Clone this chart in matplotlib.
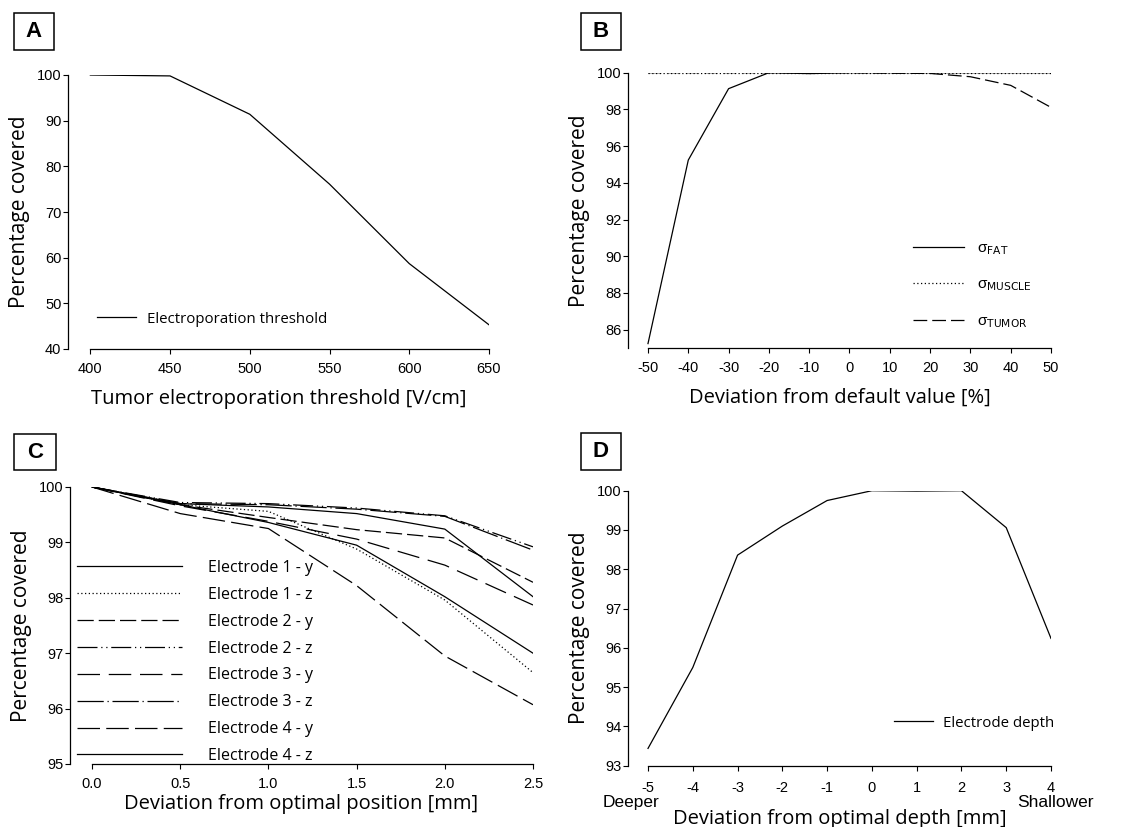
import matplotlib
matplotlib.use('Agg')
import matplotlib.pyplot as plt
from matplotlib.patches import Rectangle

plt.rcParams['axes.unicode_minus'] = False
plt.rcParams['font.family'] = 'Liberation Sans'

W, H = 1142, 827

# A: tumor electroporation threshold
threshold = [400, 450, 500, 550, 600, 650]
cov_threshold = [100, 99.8, 91.4, 76.1, 58.7, 45.3]

# B: conductivity deviation
dev_pct = [-50, -40, -30, -20, -10, 0, 10, 20, 30, 40, 50]
sigma_fat = [85.24, 95.24, 99.13, 100, 99.95, 100, 100, 100, 100, 100, 100]
sigma_muscle = [100, 100, 100, 100, 100, 100, 100, 100, 100, 100, 100]
sigma_tumor = [100, 100, 100, 100, 100, 100, 99.97, 99.96, 99.78, 99.31, 98.11]

# C: electrode position deviation
pos_mm = [0.0, 0.5, 1.0, 1.5, 2.0, 2.5]
e1_y = [100, 99.68, 99.36, 98.95, 98.02, 97.0]
e1_z = [100, 99.68, 99.56, 98.88, 97.96, 96.65]
e2_y = [100, 99.68, 99.45, 99.23, 99.08, 98.28]
e2_z = [100, 99.72, 99.70, 99.62, 99.48, 98.92]
e3_y = [100, 99.66, 99.38, 99.06, 98.59, 97.87]
e3_z = [100, 99.70, 99.68, 99.60, 99.47, 98.86]
e4_y = [100, 99.52, 99.25, 98.22, 96.95, 96.07]
e4_z = [100, 99.70, 99.64, 99.52, 99.24, 98.02]
electrode_labels = ['Electrode 1 - y', 'Electrode 1 - z', 'Electrode 2 - y', 'Electrode 2 - z',
                    'Electrode 3 - y', 'Electrode 3 - z', 'Electrode 4 - y', 'Electrode 4 - z']

# D: electrode depth
depth_mm = [-5, -4, -3, -2, -1, 0, 1, 2, 3, 4]
cov_depth = [93.44, 95.5, 98.36, 99.1, 99.75, 100, 99.99, 100, 99.06, 96.24]

fig = plt.figure(figsize=(W / 100, H / 100), dpi=100)


def px_axes(left, top, right, bottom):
    return fig.add_axes([left / W, 1 - bottom / H, (right - left) / W, (bottom - top) / H])


def style(ax, xlo, xhi):
    for s in ['top', 'right']:
        ax.spines[s].set_visible(False)
    ax.spines['bottom'].set_bounds(xlo, xhi)
    for s in ['left', 'bottom']:
        ax.spines[s].set_linewidth(0.9)
    ax.tick_params(axis='both', direction='out', length=3.8, width=0.8, labelsize=10.5)
    ax.tick_params(axis='y', pad=1)
    ax.tick_params(axis='x', pad=5.5)


def panel_label(letter, x0, y0, x1, y1):
    fig.patches.append(Rectangle((x0 / W, 1 - y1 / H), (x1 - x0) / W, (y1 - y0) / H,
                                 transform=fig.transFigure, fill=False, ec='black', lw=1.1))
    fig.text((x0 + x1) / 2 / W, 1 - (y0 + y1) / 2 / H, letter, ha='center', va='center',
             fontsize=16, fontweight='bold')


xlab_font = dict(family='Open Sans', size=14.5)
ylab_font = dict(family='Open Sans', size=15)
leg_font = dict(family='Open Sans', size=10.8)
lw = 0.9

# ---- A
ax = px_axes(68, 75, 489, 349)
ax.plot(threshold, cov_threshold, color='black', lw=lw, label='Electroporation threshold')
ax.set_xlim(386, 650)
ax.set_ylim(40, 100)
ax.set_xticks(threshold)
ax.set_yticks([40, 50, 60, 70, 80, 90, 100])
style(ax, 400, 650)
ax.set_xlabel('Tumor electroporation threshold [V/cm]', fontdict=xlab_font, labelpad=9.5)
ax.set_ylabel('Percentage covered', fontdict=ylab_font, labelpad=5)
ax.legend(loc='center left', bbox_to_anchor=(0.069, 0.109), frameon=False, prop=leg_font,
          handlelength=2.6, handletextpad=0.7, borderpad=0, borderaxespad=0)
panel_label('A', 14, 13, 54, 50)

# ---- B
ax = px_axes(628, 72.7, 1051, 348)
ax.plot(dev_pct, sigma_fat, color='black', lw=lw, label='σ$_{\\mathrm{FAT}}$')
ax.plot(dev_pct, sigma_muscle, color='black', lw=lw, ls=(0, (1, 2)), label='σ$_{\\mathrm{MUSCLE}}$')
ax.plot(dev_pct, sigma_tumor, color='black', lw=lw, ls=(0, (11, 4)), label='σ$_{\\mathrm{TUMOR}}$')
ax.set_xlim(-54.96, 50)
ax.set_ylim(85, 100)
ax.set_xticks(dev_pct)
ax.set_yticks([86, 88, 90, 92, 94, 96, 98, 100])
style(ax, -50, 50)
ax.set_xlabel('Deviation from default value [%]', fontdict=xlab_font, labelpad=9.5)
ax.set_ylabel('Percentage covered', fontdict=ylab_font, labelpad=5)
ax.legend(loc='center left', bbox_to_anchor=(0.674, 0.227), frameon=False, prop=dict(size=11),
          handlelength=3.3, handletextpad=0.85, labelspacing=1.35, borderpad=0, borderaxespad=0)
panel_label('B', 581, 13, 621, 50)

# ---- C
ax = px_axes(70, 487, 533, 764)
c_series = [e1_y, e1_z, e2_y, e2_z, e3_y, e3_z, e4_y, e4_z]
c_styles = ['-', (0, (1, 2)), (0, (13, 4)), (0, (16, 3, 1, 3, 1, 3)),
            (0, (18, 7)), (0, (21, 3, 1, 3)), (0, (18, 5)), '-']
for vals, st, lab in zip(c_series, c_styles, electrode_labels):
    ax.plot(pos_mm, vals, color='black', lw=lw, ls=st, label=lab)
ax.set_xlim(-0.125, 2.5)
ax.set_ylim(95, 100)
ax.set_xticks(pos_mm)
ax.set_xticklabels(['%.1f' % p for p in pos_mm])
ax.set_yticks([95, 96, 97, 98, 99, 100])
style(ax, 0, 2.5)
ax.set_xlabel('Deviation from optimal position [mm]', fontdict=xlab_font, labelpad=2)
ax.set_ylabel('Percentage covered', fontdict=ylab_font, labelpad=5)
ax.legend(loc='center left', bbox_to_anchor=(0.015, 0.368), frameon=False,
          prop=dict(family='Open Sans', size=11.5),
          handlelength=6.6, handletextpad=1.6, labelspacing=0.68, borderpad=0, borderaxespad=0)
panel_label('C', 14, 434, 56, 470)

# ---- D
ax = px_axes(628, 490.7, 1051, 765.7)
ax.plot(depth_mm, cov_depth, color='black', lw=lw, label='Electrode depth')
ax.set_xlim(-5.447, 4)
ax.set_ylim(93, 100)
ax.set_xticks(depth_mm)
ax.set_yticks([93, 94, 95, 96, 97, 98, 99, 100])
style(ax, -5, 4)
ax.tick_params(axis='x', pad=7)
ax.set_xlabel('Deviation from optimal depth [mm]', fontdict=xlab_font, labelpad=10)
ax.set_ylabel('Percentage covered', fontdict=ylab_font, labelpad=5)
ax.text(-5.38, -0.134, 'Deeper', transform=ax.get_xaxis_transform(), ha='center', va='center', fontsize=12.5)
ax.text(4.09, -0.134, 'Shallower', transform=ax.get_xaxis_transform(), ha='center', va='center', fontsize=12.5)
ax.legend(loc='center left', bbox_to_anchor=(0.629, 0.155), frameon=False, prop=leg_font,
          handlelength=2.6, handletextpad=0.65, borderpad=0, borderaxespad=0)
panel_label('D', 581, 433, 621, 470)

fig.savefig('out.png', dpi=100)
